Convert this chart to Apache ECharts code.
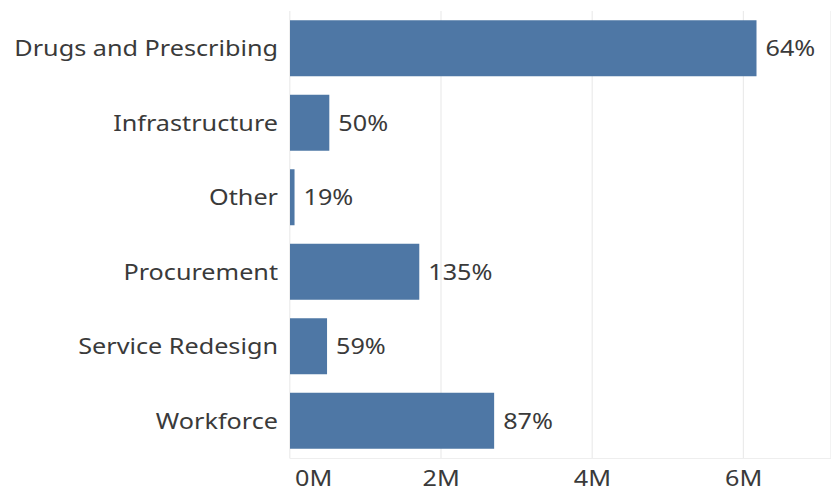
<!DOCTYPE html>
<html>
<head>
<meta charset="utf-8">
<script src="https://cdn.jsdelivr.net/npm/echarts@6/dist/echarts.min.js"></script>
<style>
  html, body { margin: 0; padding: 0; background: #fff; overflow: hidden; }
  #chart { height: 493px; transform-origin: 0 0; }
</style>
</head>
<body>
<div id="chart"></div>
<script>
// Spend by category (in pounds) and the share shown beside each bar
const categories = ['Drugs and Prescribing', 'Infrastructure', 'Other', 'Procurement', 'Service Redesign', 'Workforce'];
const spend = [6170000, 520000, 60000, 1710000, 490000, 2700000];
const shareLabels = ['64%', '50%', '19%', '135%', '59%', '87%'];

// The dashboard's wide lettering: draw at a narrower width, then stretch horizontally.
const STRETCH = 1.2;
const PAGE_W = 831;
const el = document.getElementById('chart');
el.style.width = (PAGE_W / STRETCH) + 'px';
el.style.transform = 'scaleX(' + STRETCH + ')';

const chart = echarts.init(el, null, { renderer: 'svg' });
const fontFamily = '"Noto Sans", "Open Sans", sans-serif';
const textColor = '#3a3a3a';
const fontSize = 21;
const px = v => v / STRETCH;   // horizontal page pixels -> chart pixels

chart.setOption({
  animation: false,
  grid: { left: px(290), right: px(1), top: 11, bottom: 35 },
  xAxis: {
    type: 'value',
    min: 0,
    max: 7150000,
    interval: 2000000,
    axisLine: { show: true, lineStyle: { color: '#eeeeee' } },
    axisTick: { show: false },
    splitLine: { show: true, lineStyle: { color: '#ebebeb', width: 1 } },
    axisLabel: {
      color: textColor,
      fontSize: fontSize,
      fontFamily: fontFamily,
      margin: 9,
      showMaxLabel: false,
      alignMinLabel: 'left',
      formatter: function (v) {
        const txt = (v / 1000000) + 'M';
        return v === 0 ? '{first|' + txt + '}' : txt;
      },
      rich: {
        first: { color: textColor, fontSize: fontSize, fontFamily: fontFamily, padding: [0, 0, 0, px(5)] }
      }
    }
  },
  yAxis: {
    type: 'category',
    data: categories,
    inverse: true,
    axisLine: { show: false },
    axisTick: { show: false },
    axisLabel: {
      color: textColor,
      fontSize: fontSize,
      fontFamily: fontFamily,
      margin: px(12)
    }
  },
  series: [{
    type: 'bar',
    data: spend,
    barWidth: 56,
    itemStyle: { color: '#4e77a5' },
    label: {
      show: true,
      position: 'right',
      distance: px(9),
      color: textColor,
      fontSize: fontSize,
      fontFamily: fontFamily,
      formatter: function (p) { return shareLabels[p.dataIndex]; }
    }
  }]
});
</script>
</body>
</html>
